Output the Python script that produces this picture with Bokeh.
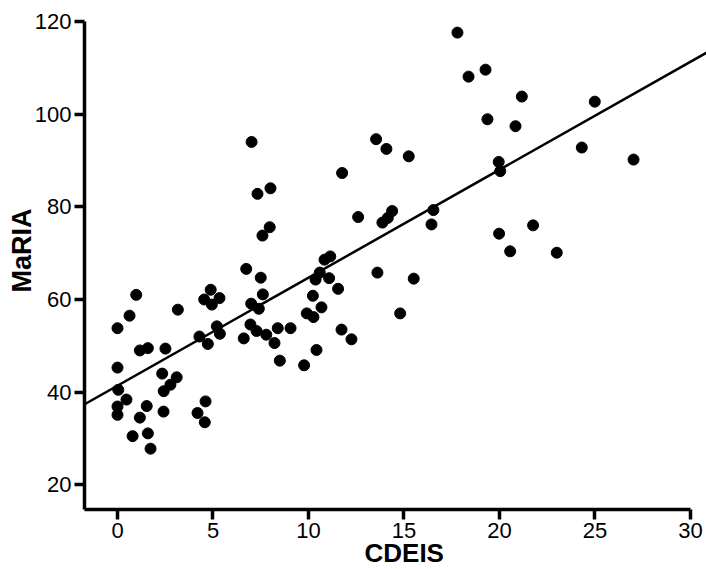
from bokeh.plotting import figure
from bokeh.models import Range1d, FixedTicker, Slope, Title
from bokeh.embed import file_html
from bokeh.resources import INLINE

# CDEIS (x) and MaRIA (y) scores
cdeis = [0.0, 0.63, 0.98, 1.17, 1.59, 2.51, 3.16, 4.29, 4.54, 4.88, 4.94, 5.34, 4.73, 5.20, 5.36,
         0.0, 0.04, 0.47, 0.0, 0.0, 1.17, 1.53, 0.79, 1.59, 1.73, 2.34, 2.42, 2.77, 3.10, 2.41,
         4.61, 4.19, 4.57, 7.02, 7.33, 8.01, 7.97, 7.59, 6.74, 7.50, 7.61, 7.00, 10.23, 11.55,
         10.37, 10.59, 11.08, 10.84, 11.14, 11.76, 12.60, 13.54, 14.08, 15.25, 13.87, 14.15,
         14.38, 13.61, 15.51, 16.54, 16.44, 7.40, 6.96, 7.28, 6.61, 7.79, 8.39, 9.06, 8.22,
         8.50, 9.77, 10.42, 9.91, 10.26, 10.68, 11.73, 12.25, 14.80, 17.80, 18.38, 19.27,
         21.17, 19.37, 20.84, 24.99, 24.31, 27.02, 19.96, 20.04, 19.98, 21.76, 20.56, 23.00]
maria = [53.8, 56.5, 61.0, 49.0, 49.5, 49.4, 57.8, 52.0, 60.0, 62.1, 58.9, 60.3, 50.4, 54.2, 52.6,
         45.3, 40.5, 38.4, 36.9, 35.1, 34.5, 37.0, 30.5, 31.1, 27.8, 44.0, 40.2, 41.6, 43.2, 35.8,
         38.0, 35.5, 33.5, 94.0, 82.8, 84.0, 75.6, 73.8, 66.6, 64.7, 61.1, 59.1, 60.8, 62.3,
         64.3, 65.8, 64.6, 68.6, 69.3, 87.3, 77.8, 94.6, 92.5, 90.9, 76.6, 77.6,
         79.1, 65.8, 64.5, 79.3, 76.2, 58.0, 54.6, 53.2, 51.6, 52.4, 53.8, 53.8, 50.6,
         46.8, 45.8, 49.1, 57.0, 56.2, 58.3, 53.5, 51.4, 57.0, 117.6, 108.1, 109.6,
         103.8, 98.9, 97.4, 102.7, 92.8, 90.2, 89.7, 87.7, 74.2, 76.0, 70.4, 70.1]

# regression line
fit_intercept = 41.4
fit_slope = 2.33

x_ticks = [0, 5, 10, 15, 20, 25, 30]
y_ticks = [20, 40, 60, 80, 100, 120]
x_title = "CDEIS"
y_title = "MaRIA"

x_start, x_end = -1.728, 30.84
y_start, y_end = 14.67, 120

p = figure(width=706, height=569, output_backend="svg", toolbar_location=None,
           x_range=Range1d(x_start, x_end), y_range=Range1d(y_start, y_end),
           min_border_left=84, min_border_right=0, min_border_top=21, min_border_bottom=60,
           background_fill_color="white", border_fill_color="white")
p.outline_line_color = None
p.grid.visible = False

p.scatter(cdeis, maria, size=11, color="black", line_color="black")
p.add_layout(Slope(gradient=fit_slope, y_intercept=fit_intercept,
                   line_color="black", line_width=2.5))

font = "Liberation Sans"
for ax in (p.xaxis[0], p.yaxis[0]):
    ax.axis_line_width = 3.5
    ax.axis_line_color = "black"
    ax.major_tick_line_width = 3.5
    ax.major_tick_line_color = "black"
    ax.major_tick_in = 0
    ax.major_tick_out = 10
    ax.minor_tick_line_color = None
    ax.major_label_text_font = font
    ax.major_label_text_font_size = "22px"
    ax.major_label_text_color = "black"

p.xaxis.ticker = FixedTicker(ticks=x_ticks)
p.yaxis.ticker = FixedTicker(ticks=y_ticks)
p.xaxis.bounds = (x_start, 30)
p.yaxis.bounds = (y_start, 120)
p.xaxis.major_label_standoff = 3
p.yaxis.major_label_standoff = 3

# axis titles as side titles, so they can be shifted along the axes
p.add_layout(Title(text=x_title, align="left", offset=280, standoff=-9,
                   text_font=font, text_font_size="26px", text_font_style="bold",
                   text_color="black"), "below")
p.add_layout(Title(text=y_title, align="left", offset=217, standoff=-11,
                   text_font=font, text_font_size="27px", text_font_style="bold",
                   text_color="black"), "left")

open("out.html", "w").write(file_html(p, INLINE))
